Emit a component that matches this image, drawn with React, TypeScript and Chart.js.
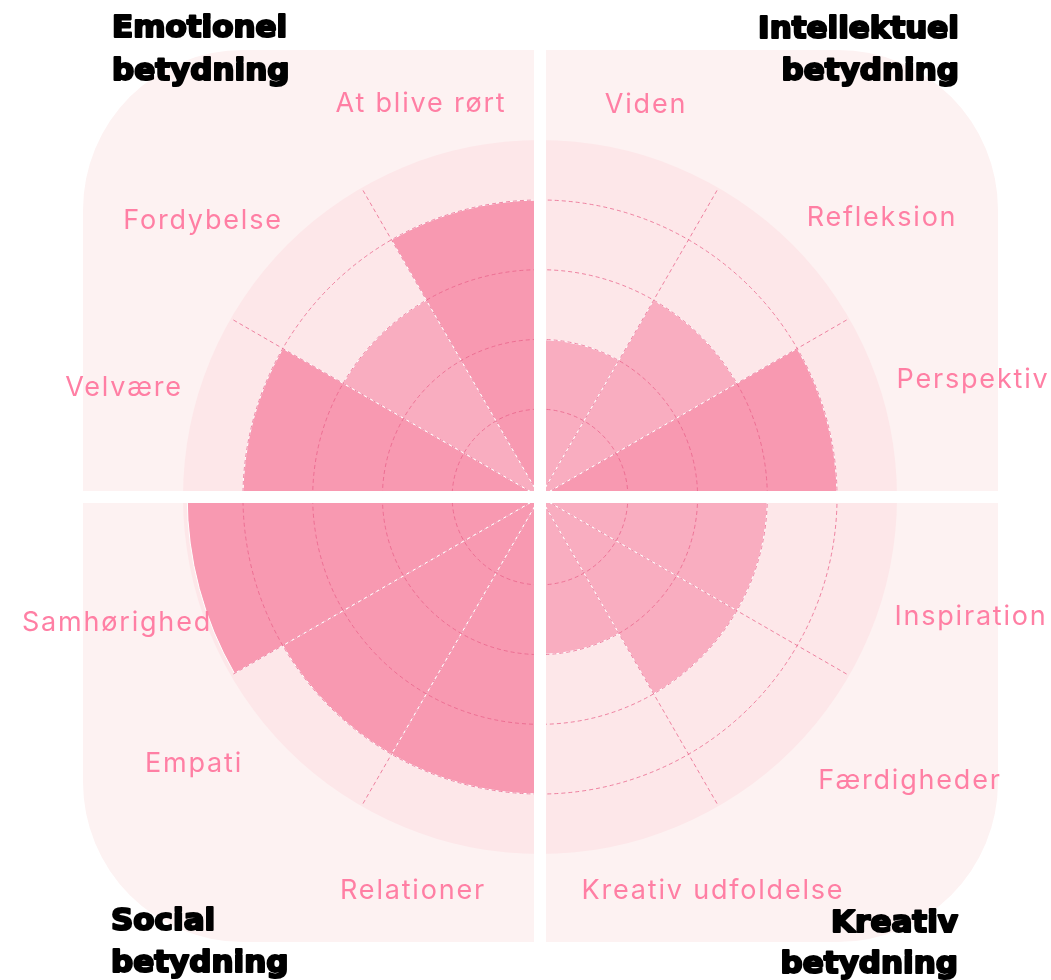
import React, { useEffect, useRef } from 'react';
import { Chart, registerables } from 'chart.js';

Chart.register(...registerables);

// ---- data ----
const categories = [
  'Viden', 'Refleksion', 'Perspektiv',
  'Inspiration', 'Færdigheder', 'Kreativ udfoldelse',
  'Relationer', 'Empati', 'Samhørighed',
  'Velvære', 'Fordybelse', 'At blive rørt',
];
const values = [2, 3, 4, 3, 3, 2, 4, 4, 4.8, 4, 3, 4];
const ringTicks = [1, 2, 3, 4];
const quadrantTitles = [
  ['Emotionel', 'betydning'],
  ['Intellektuel', 'betydning'],
  ['Social', 'betydning'],
  ['Kreativ', 'betydning'],
];

// ---- layout / style (relative to the polar centre) ----
const labelOffsets = [
  [105, -384], [341, -271], [432, -109],
  [430, 128], [369, 292], [172, 402],
  [-128, 402], [-347, 275], [-424, 134],
  [-417, -101], [-338, -268], [-120, -385],
];
// [x, align, baseline1, baseline2]
const titlePlacement: [number, CanvasTextAlign, number, number][] = [
  [-429, 'left', -460, -417],
  [420, 'right', -459, -417],
  [-430, 'left', 433, 475],
  [419, 'right', 435, 476],
];

const COLORS = {
  panel: '#fdf2f2',
  circle: '#fde7e9',
  dark: '#f899b1',
  light: '#f9adc0',
  grid: 'rgba(232, 96, 136, 0.75)',
  label: '#ff7fa4',
  title: '#000000',
};

function roundRect(ctx: CanvasRenderingContext2D, x: number, y: number, w: number, h: number, r: number) {
  ctx.beginPath();
  ctx.moveTo(x + r, y);
  ctx.lineTo(x + w - r, y);
  ctx.arcTo(x + w, y, x + w, y + r, r);
  ctx.lineTo(x + w, y + h - r);
  ctx.arcTo(x + w, y + h, x + w - r, y + h, r);
  ctx.lineTo(x + r, y + h);
  ctx.arcTo(x, y + h, x, y + h - r, r);
  ctx.lineTo(x, y + r);
  ctx.arcTo(x, y, x + r, y, r);
  ctx.closePath();
}

const decorPlugin = {
  id: 'decor',
  beforeDraw(chart: any) {
    const ctx: CanvasRenderingContext2D = chart.ctx;
    const s = chart.scales.r;
    const cx = s.xCenter;
    const cy = s.yCenter;
    ctx.save();
    ctx.fillStyle = COLORS.panel;
    roundRect(ctx, cx - 457, cy - 447, 915, 892, 160);
    ctx.fill();
    ctx.fillStyle = COLORS.circle;
    ctx.beginPath();
    ctx.arc(cx, cy, s.drawingArea, 0, Math.PI * 2);
    ctx.fill();
    ctx.restore();
  },
  afterDraw(chart: any) {
    const ctx: CanvasRenderingContext2D = chart.ctx;
    const s = chart.scales.r;
    const cx = s.xCenter;
    const cy = s.yCenter;
    const W = chart.width;
    const H = chart.height;
    ctx.save();
    // white cross separating the four quadrants
    ctx.fillStyle = '#ffffff';
    ctx.fillRect(cx - 6, 0, 12, H);
    ctx.fillRect(0, cy - 6, W, 12);

    // category labels
    ctx.fillStyle = COLORS.label;
    ctx.font = '400 27px Inter';
    (ctx as any).letterSpacing = '1.8px';
    ctx.textAlign = 'center';
    ctx.textBaseline = 'alphabetic';
    categories.forEach((c, i) => {
      const [dx, dy] = labelOffsets[i];
      ctx.fillText(c, cx + dx + 1, cy + dy);
    });

    // quadrant titles
    ctx.fillStyle = COLORS.title;
    ctx.strokeStyle = COLORS.title;
    ctx.lineWidth = 2.2;
    ctx.lineJoin = 'round';
    ctx.font = 'bold 31px "DejaVu Sans"';
    (ctx as any).letterSpacing = '0px';
    quadrantTitles.forEach((t, i) => {
      const [x, align, b1, b2] = titlePlacement[i];
      ctx.textAlign = align;
      const xx = align === 'right' ? cx + x - 1 : cx + x + 1;
      ctx.fillText(t[0], xx, cy + b1);
      ctx.strokeText(t[0], xx, cy + b1);
      ctx.fillText(t[1], xx, cy + b2);
      ctx.strokeText(t[1], xx, cy + b2);
    });
    ctx.restore();
  },
};

export default function App() {
  const ref = useRef<HTMLCanvasElement | null>(null);

  useEffect(() => {
    if (!ref.current) return;
    const chart = new Chart(ref.current, {
      type: 'polarArea',
      data: {
        labels: categories,
        datasets: [
          {
            data: values,
            backgroundColor: (c: any) => (c.raw >= 4 ? COLORS.dark : COLORS.light),
            borderColor: '#ffffff',
            borderWidth: 1,
          },
        ],
      },
      options: {
        responsive: false,
        maintainAspectRatio: false,
        devicePixelRatio: 1,
        animation: false,
        layout: { padding: { left: 183, top: 140, right: 154, bottom: 126 } },
        plugins: {
          legend: { display: false },
          tooltip: { enabled: false },
        },
        scales: {
          r: {
            type: 'radialLinear',
            min: -0.26,
            max: 4.86,
            bounds: 'data',
            startAngle: 0,
            afterBuildTicks: (scale: any) => {
              scale.ticks = ringTicks.map((v) => ({ value: v }));
            },
            ticks: { display: false },
            pointLabels: { display: false },
            grid: { display: true, circular: true, color: COLORS.grid, lineWidth: 1, z: 1 },
            border: { dash: [4, 3] },
            angleLines: { display: true, color: COLORS.grid, lineWidth: 1, borderDash: [4, 3] },
          },
        },
      },
      plugins: [decorPlugin],
    } as any);
    return () => chart.destroy();
  }, []);

  return (
    <div style={{ position: 'absolute', left: 0, top: 0, width: 1051, height: 980, background: '#ffffff' }}>
      <canvas ref={ref} width={1051} height={980} style={{ display: 'block', width: 1051, height: 980 }} />
    </div>
  );
}
